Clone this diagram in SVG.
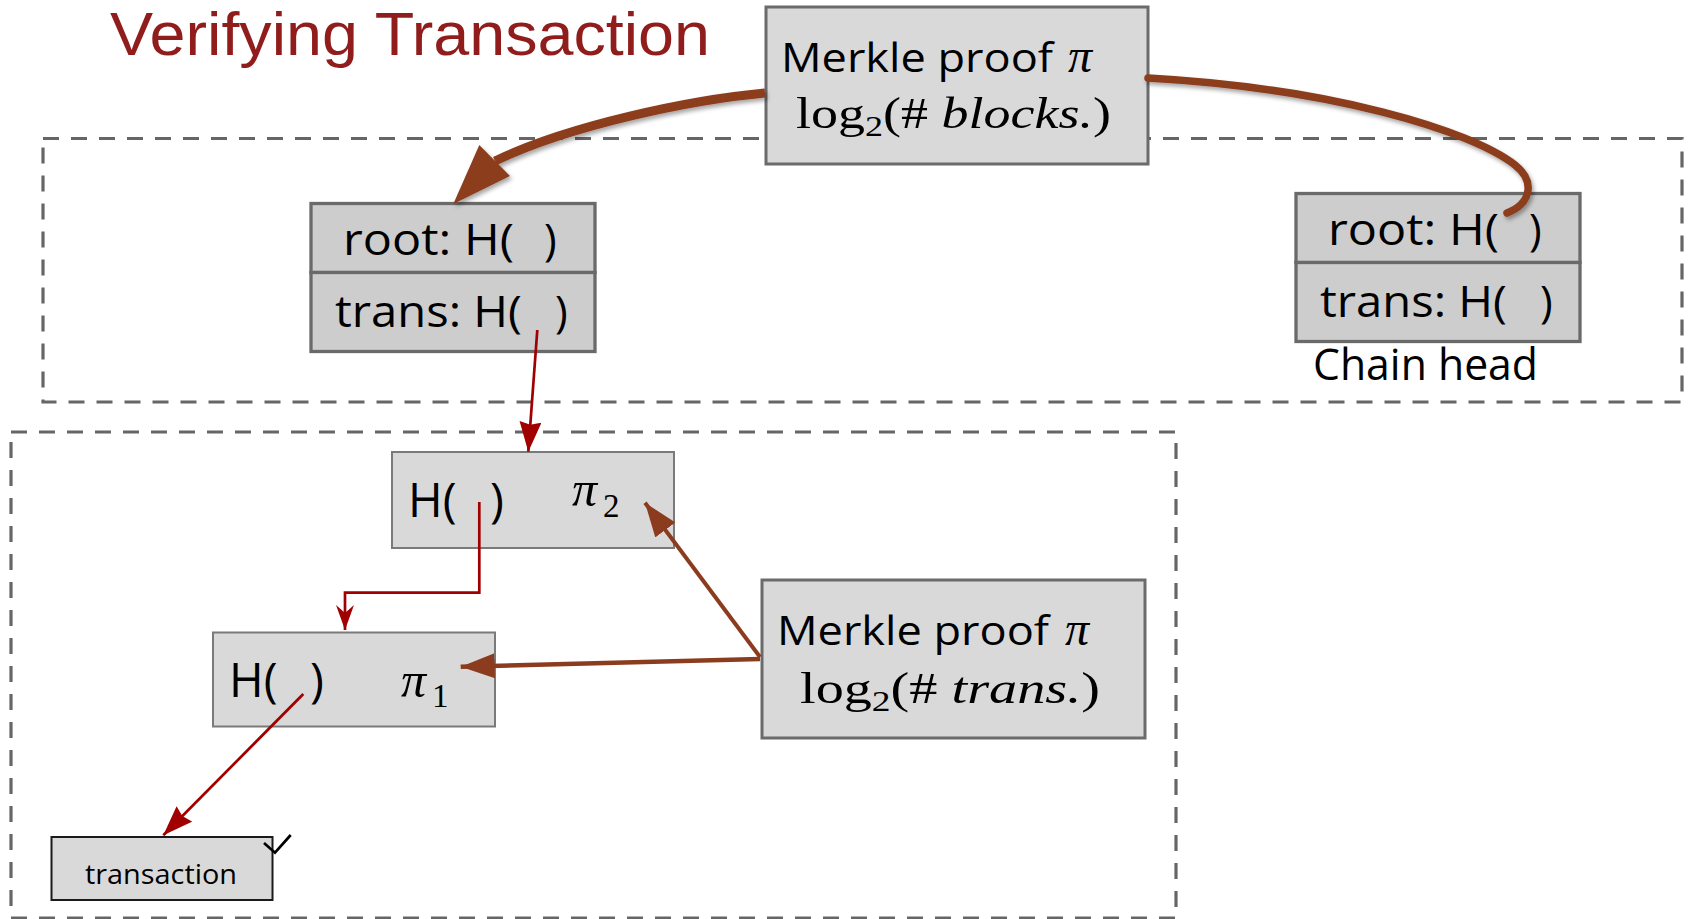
<svg xmlns="http://www.w3.org/2000/svg" width="1694" height="919" viewBox="0 0 1694 919">
<style>
.sans{font-family:"Open Sans","Noto Sans","DejaVu Sans",sans-serif;fill:#000}
.math{font-family:"Liberation Serif","DejaVu Serif",serif;fill:#000}
.it{font-style:italic}
.region{fill:none;stroke:#666;stroke-width:3.2;stroke-dasharray:16 12}
.boxA{fill:#D9D9D9;stroke:#6b6b6b;stroke-width:3}
.boxB{fill:#CDCDCD;stroke:#6a6a6a;stroke-width:3.3}
.boxC{fill:#D9D9D9;stroke:#7a7a7a;stroke-width:2}
.red{fill:none;stroke:#A00000;stroke-width:2.7}
.brown{fill:none;stroke:#8C3C1E}
</style>
<defs>
<filter id="shadow" x="-10%" y="-20%" width="130%" height="150%">
<feDropShadow dx="2" dy="3" stdDeviation="2" flood-color="#000" flood-opacity="0.35"/>
</filter>
<marker id="redTri" viewBox="0 0 30 22" refX="30" refY="11" markerWidth="30" markerHeight="22" markerUnits="userSpaceOnUse" orient="auto">
<path d="M0,0 L30,11 L0,22 L3,11 z" fill="#A00000"/>
</marker>
<marker id="redOpen" viewBox="0 0 25 18" refX="25" refY="9" markerWidth="25" markerHeight="18" markerUnits="userSpaceOnUse" orient="auto">
<path d="M0,0 L25,9 L0,18 L8,9 z" fill="#A00000"/>
</marker>
<marker id="brownTri" viewBox="0 0 34 25" refX="34" refY="12.5" markerWidth="34" markerHeight="25" markerUnits="userSpaceOnUse" orient="auto">
<path d="M0,0 L34,12.5 L0,25 z" fill="#8C3C1E"/>
</marker>
</defs>
<rect width="1694" height="919" fill="#fff"/>

<g id="title">
<text x="110" y="55" font-family="'Liberation Sans',Arial,sans-serif" font-size="62" fill="#901C1C" textLength="600" lengthAdjust="spacingAndGlyphs">Verifying Transaction</text>
</g>

<g id="regions">
<rect class="region" x="43" y="138.5" width="1639" height="263.5"/>
<rect class="region" x="11" y="432" width="1165" height="486"/>
</g>

<g id="merkle-blocks">
<rect class="boxA" x="766" y="7" width="382" height="157"/>
<text class="sans" x="781" y="72" font-size="40" textLength="272" lengthAdjust="spacingAndGlyphs">Merkle proof</text>
<text class="math it" x="1068" y="72" font-size="48">π</text>
<text class="math" x="796" y="128" font-size="45" textLength="315" lengthAdjust="spacingAndGlyphs">log<tspan font-size="30" dy="8">2</tspan><tspan dy="-8">(# </tspan><tspan class="it">blocks.</tspan>)</text>
</g>

<g id="block-left">
<rect class="boxB" x="311" y="203.5" width="284" height="69"/>
<rect class="boxB" x="311" y="272.5" width="284" height="79"/>
<text class="sans" x="343" y="255" font-size="43" textLength="171" lengthAdjust="spacingAndGlyphs">root: H(</text>
<text class="sans" x="544" y="255" font-size="43">)</text>
<text class="sans" x="335" y="327" font-size="43" textLength="187" lengthAdjust="spacingAndGlyphs">trans: H(</text>
<text class="sans" x="555" y="327" font-size="43">)</text>
</g>

<g id="block-head">
<rect class="boxB" x="1296" y="193.5" width="284" height="69"/>
<rect class="boxB" x="1296" y="262.5" width="284" height="79"/>
<text class="sans" x="1328" y="245" font-size="43" textLength="171" lengthAdjust="spacingAndGlyphs">root: H(</text>
<text class="sans" x="1529" y="245" font-size="43">)</text>
<text class="sans" x="1320" y="317" font-size="43" textLength="187" lengthAdjust="spacingAndGlyphs">trans: H(</text>
<text class="sans" x="1540" y="317" font-size="43">)</text>
<text class="sans" x="1313" y="380" font-size="43" textLength="225" lengthAdjust="spacingAndGlyphs">Chain head</text>
</g>

<g id="hash-pi2">
<rect class="boxC" x="392" y="452" width="282" height="96"/>
<text class="sans" x="408" y="517" font-size="47">H(</text>
<text class="sans" x="490" y="517" font-size="47">)</text>
<text class="math it" x="572" y="506" font-size="50">π</text>
<text class="math" x="603" y="517" font-size="33">2</text>
</g>

<g id="hash-pi1">
<rect class="boxC" x="213" y="632.5" width="282" height="94"/>
<text class="sans" x="229" y="697" font-size="47">H(</text>
<text class="sans" x="310" y="697" font-size="47">)</text>
<text class="math it" x="401" y="697" font-size="50">π</text>
<text class="math" x="432" y="707" font-size="33">1</text>
</g>

<g id="transaction">
<rect x="51.5" y="837" width="221" height="63" fill="#D9D9D9" stroke="#1a1a1a" stroke-width="2"/>
<text class="sans" x="85" y="884" font-size="27" textLength="152" lengthAdjust="spacingAndGlyphs">transaction</text>
<polyline points="264,843 275,852.7 290.7,835" fill="none" stroke="#000" stroke-width="2.7"/>
</g>

<g id="merkle-trans">
<rect class="boxA" x="762" y="580" width="383" height="158"/>
<text class="sans" x="777" y="645" font-size="40" textLength="272" lengthAdjust="spacingAndGlyphs">Merkle proof</text>
<text class="math it" x="1065" y="645" font-size="48">π</text>
<text class="math" x="800" y="703" font-size="45" textLength="300" lengthAdjust="spacingAndGlyphs">log<tspan font-size="30" dy="8">2</tspan><tspan dy="-8">(# </tspan><tspan class="it">trans.</tspan>)</text>
</g>

<g id="connectors">
<g filter="url(#shadow)">
<path class="brown" d="M 765 93 C 690 100, 570 125, 495 161" stroke-width="9"/>
<polygon points="453.3,204 479.3,145 510,176" fill="#8C3C1E"/>
</g>
<g filter="url(#shadow)">
<path class="brown" d="M 1148 78 C 1330 88, 1470 130, 1515 165 C 1535 181, 1532 203, 1507 213" stroke-width="7.5" stroke-linecap="round"/>
</g>
<path class="red" d="M 537.3 330 L 528.3 451.7" marker-end="url(#redTri)"/>
<path class="red" d="M 479.3 502 V 592.7 H 345 V 630" marker-end="url(#redOpen)"/>
<path class="red" d="M 303.3 694 L 163.3 835.3" stroke-width="3" marker-end="url(#redTri)"/>
<path class="brown" d="M 760 659 L 460.7 666.7" stroke-width="4.5" marker-end="url(#brownTri)"/>
<path class="brown" d="M 760 657 L 645 502.7" stroke-width="4" marker-end="url(#brownTri)"/>
</g>
</svg>
